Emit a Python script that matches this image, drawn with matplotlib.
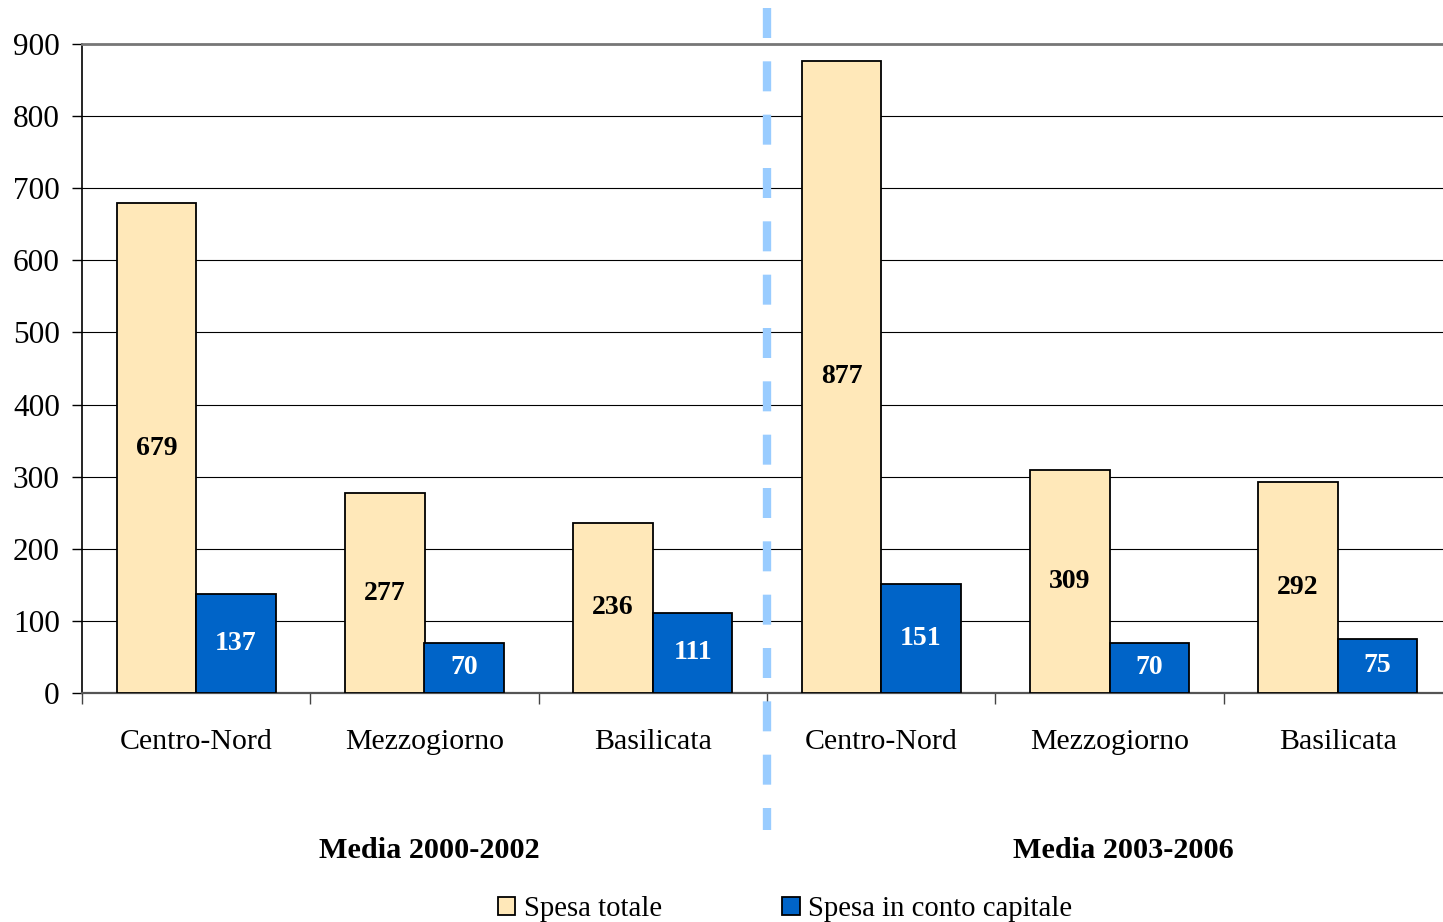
import matplotlib.pyplot as plt
import numpy as np

# data
categorie = ['Centro-Nord', 'Mezzogiorno', 'Basilicata',
             'Centro-Nord', 'Mezzogiorno', 'Basilicata']
spesa_totale = [679, 277, 236, 877, 309, 292]
spesa_capitale = [137, 70, 111, 151, 70, 75]
periodi = ['Media 2000-2002', 'Media 2003-2006']
serie = ['Spesa totale', 'Spesa in conto capitale']

plt.rcParams['font.family'] = ['Liberation Serif', 'DejaVu Serif']

fig = plt.figure(figsize=(14.43, 9.22), dpi=100)
ax = fig.add_axes([82/1443, 1-693/922, (1452-82)/1443, 649/922])

x = np.arange(len(categorie))
w = 0.348
b1 = ax.bar(x - w/2, spesa_totale, w, color='#FFE8B9', edgecolor='black',
            linewidth=1.3, label=serie[0], zorder=3)
b2 = ax.bar(x + w/2, spesa_capitale, w, color='#0064C8', edgecolor='black',
            linewidth=1.3, label=serie[1], zorder=3)

# value labels in the middle of the bars
for i in range(len(x)):
    ax.text(x[i] - w/2, spesa_totale[i]/2, str(spesa_totale[i]), ha='center',
            va='center', fontsize=20, fontweight='bold', color='black', zorder=4)
    ax.text(x[i] + w/2, spesa_capitale[i]/2, str(spesa_capitale[i]), ha='center',
            va='center', fontsize=20, fontweight='bold', color='white', zorder=4)

ax.set_xlim(-0.5, len(x) - 0.5)
ax.set_ylim(0, 900)
ax.set_yticks(np.arange(0, 901, 100))
ax.yaxis.grid(True, color='black', linewidth=0.8, zorder=0)
ax.set_axisbelow(True)

ax.set_xticks(x)
ax.set_xticklabels(categorie)
ax.set_xticks(np.arange(-0.5, len(x), 1), minor=True)
ax.tick_params(axis='x', which='major', length=0, pad=26, labelsize=21.5)
ax.tick_params(axis='x', which='minor', length=8, width=1, color='#444444')
ax.tick_params(axis='y', length=7, width=1, pad=9, labelsize=22.5)

ax.spines['right'].set_visible(False)
ax.spines['top'].set_color('#777777')
ax.spines['top'].set_linewidth(2)
ax.spines['bottom'].set_color('#555555')
ax.spines['bottom'].set_linewidth(1.6)
ax.spines['left'].set_linewidth(1.2)

# separator between the two periods
ax.plot([2.5, 2.5], [1.0555, -0.211], transform=ax.get_xaxis_transform(),
        color='#99CCFF', linewidth=6, linestyle=(0, (3.6, 2.8)),
        solid_capstyle='butt', dash_capstyle='butt', clip_on=False, zorder=5)

# period labels
ax.text(1.02, -0.242, periodi[0], transform=ax.get_xaxis_transform(), ha='center',
        va='center', fontsize=21.8, fontweight='bold')
ax.text(4.06, -0.242, periodi[1], transform=ax.get_xaxis_transform(), ha='center',
        va='center', fontsize=21.8, fontweight='bold')

fig.legend(handles=[b1, b2], labels=serie, loc='center', ncol=2,
           bbox_to_anchor=(785/1443, 1 - 909/922), frameon=False,
           fontsize=20.7, handlelength=0.6, handleheight=0.6,
           handletextpad=0.3, columnspacing=4.2)

fig.savefig('out.png', dpi=100)
